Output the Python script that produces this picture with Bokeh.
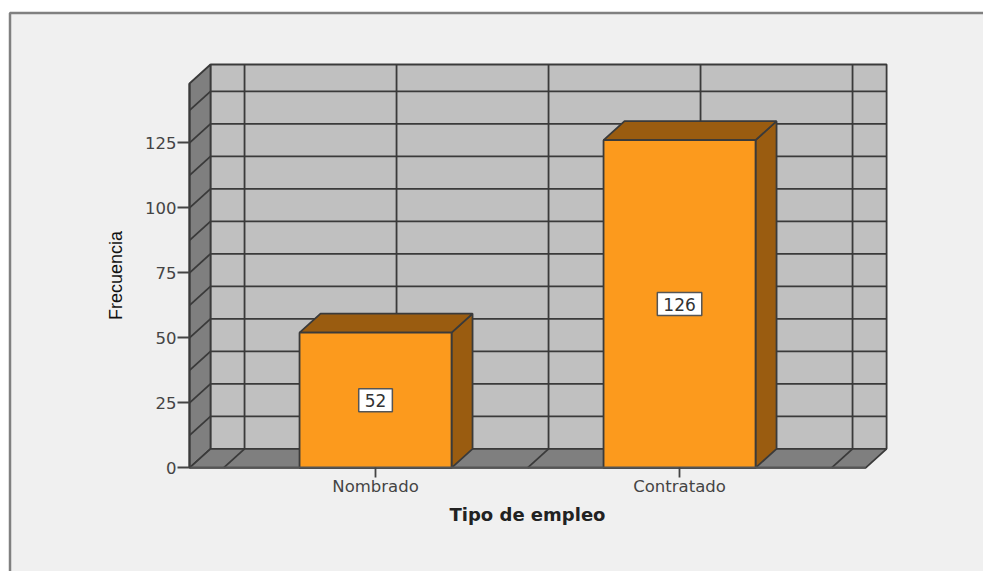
from bokeh.plotting import figure
from bokeh.models import BoxAnnotation, FixedTicker, ColumnDataSource, LinearAxis
from bokeh.core.properties import value
from bokeh.embed import file_html
from bokeh.resources import INLINE

# ---- data ----
categories = ["Nombrado", "Contratado"]
positions = [1.0, 2.0]
frecuencias = [52, 126]
y_ticks = [0, 25, 50, 75, 100, 125]
y_minor = [12.5, 37.5, 62.5, 87.5, 112.5, 137.5]
x_grid = [0.5, 1.0, 1.5, 2.0, 2.5]
x_title = "Tipo de empleo"
y_title = "Frecuencia"

# ---- layout ----
W, H = 983, 571
PX_X, PX_Y = 304.0, 2.6
ORIGIN_X, ORIGIN_Y = 189.0, 467.3
X0 = 0.388
X1 = 2.612
Y_TOP = 147.8
DX, DY = 21 / PX_X, 19 / PX_Y
BAR_W = 0.5

LINE = "#3a3a3a"
LW = 1.8
WALL = "#c0c0c0"
SIDE = "#7f7f7f"
ORANGE = "#fc9a1d"
BROWN = "#9a5c10"
BG = "#f0f0f0"

p = figure(width=W, height=H,
           x_range=(X0 - ORIGIN_X / PX_X, X0 + (W - ORIGIN_X) / PX_X),
           y_range=(-(H - ORIGIN_Y) / PX_Y, ORIGIN_Y / PX_Y),
           output_backend="svg", toolbar_location=None, tools="",
           x_axis_type=None, y_axis_type=None,
           min_border=0, border_fill_color="white", background_fill_color="white",
           outline_line_color=None)
p.grid.visible = False

p.add_layout(BoxAnnotation(left=9.5, right=1100, top=12.5, bottom=800,
                           left_units="canvas", right_units="canvas",
                           top_units="canvas", bottom_units="canvas",
                           fill_color=BG, fill_alpha=1, line_color="#808080", line_alpha=1,
                           line_width=2.5, level="underlay"))

# walls and floor
p.patch([X0 + DX, X1 + DX, X1 + DX, X0 + DX], [DY, DY, Y_TOP + DY, Y_TOP + DY],
        fill_color=WALL, line_color=LINE, line_width=LW)
p.patch([X0, X0 + DX, X0 + DX, X0], [0, DY, Y_TOP + DY, Y_TOP],
        fill_color=SIDE, line_color=LINE, line_width=LW)
p.patch([X0, X1, X1 + DX, X0 + DX], [0, 0, DY, DY],
        fill_color=SIDE, line_color=LINE, line_width=LW)

# back wall grid and the lines that fold onto the side wall and the floor
levels = sorted(y_ticks[1:] + y_minor)
p.multi_line([[X0 + DX, X1 + DX] for v in levels], [[DY + v, DY + v] for v in levels],
             line_color=LINE, line_width=LW)
p.multi_line([[X0, X0 + DX] for v in levels], [[v, DY + v] for v in levels],
             line_color=LINE, line_width=LW)
p.multi_line([[x + DX, x + DX] for x in x_grid], [[DY, Y_TOP + DY] for x in x_grid],
             line_color=LINE, line_width=LW)
p.multi_line([[x, x + DX] for x in x_grid], [[0, DY] for x in x_grid],
             line_color=LINE, line_width=LW)

# 3D bars
lefts = [x - BAR_W / 2 for x in positions]
rights = [x + BAR_W / 2 for x in positions]
p.patches([[r, r + DX, r + DX, r] for r in rights],
          [[0, DY, v + DY, v] for v in frecuencias],
          fill_color=BROWN, line_color=LINE, line_width=LW)
p.patches([[l, r, r + DX, l + DX] for l, r in zip(lefts, rights)],
          [[v, v, v + DY, v + DY] for v in frecuencias],
          fill_color=BROWN, line_color=LINE, line_width=LW)
p.quad(left=lefts, right=rights, bottom=[0, 0], top=frecuencias,
       fill_color=ORANGE, line_color=LINE, line_width=LW)

# value labels
src = ColumnDataSource(dict(x=positions, y=[v / 2 for v in frecuencias],
                            t=[str(v) for v in frecuencias]))
p.text(x="x", y="y", text="t", source=src, text_align="center", text_baseline="middle",
       text_font=value("DejaVu Sans"), text_font_size="17px", text_color="#333333",
       background_fill_color="white", border_line_color="#555555", border_line_width=1.5,
       padding=(6, 5))

# axes
xa = LinearAxis(fixed_location=0, bounds=(X0, X1))
xa.ticker = FixedTicker(ticks=positions)
xa.major_label_overrides = {x: c for x, c in zip(positions, categories)}
xa.major_tick_out = 10
xa.major_tick_in = 0
xa.minor_tick_line_color = None
xa.major_label_standoff = -1
xa.major_label_text_font = "DejaVu Sans"
xa.major_label_text_font_size = "16.5px"
xa.major_label_text_color = "#444444"
xa.axis_line_color = "#555555"
xa.axis_line_width = 2
xa.major_tick_line_color = "#444444"
xa.major_tick_line_width = 1.8
xa.axis_label = x_title
xa.axis_label_standoff = 5
xa.axis_label_text_font = "DejaVu Sans"
xa.axis_label_text_font_style = "bold"
xa.axis_label_text_font_size = "18px"
xa.axis_label_text_color = "#222222"
p.add_layout(xa, "below")

ya = LinearAxis(fixed_location=X0, bounds=(0, Y_TOP))
ya.ticker = FixedTicker(ticks=y_ticks)
ya.major_tick_out = 12
ya.major_tick_in = 0
ya.minor_tick_line_color = None
ya.major_label_standoff = 1
ya.major_label_text_font = "DejaVu Sans"
ya.major_label_text_font_size = "16.5px"
ya.major_label_text_color = "#444444"
ya.axis_line_color = LINE
ya.axis_line_width = 2
ya.major_tick_line_color = "#444444"
ya.major_tick_line_width = 1.8
ya.axis_label = y_title
ya.axis_label_standoff = 16
ya.axis_label_text_font = "Liberation Sans"
ya.axis_label_text_font_style = "normal"
ya.axis_label_text_font_size = "18px"
ya.axis_label_text_color = "#111111"
p.add_layout(ya, "left")

open("out.html", "w").write(file_html(p, INLINE))
